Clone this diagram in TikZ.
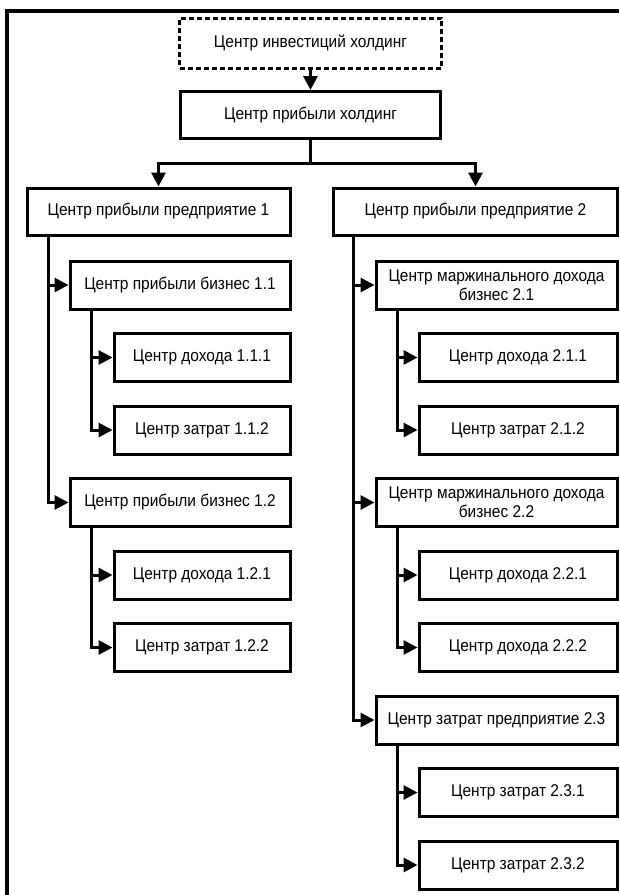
\documentclass[tikz,border=0pt]{standalone}
\usepackage{fontspec}
\setmainfont{Liberation Sans}[FakeStretch=0.91]
\usetikzlibrary{arrows.meta}
\begin{document}
\begin{tikzpicture}[x=1pt,y=-1pt,
  font=\fontsize{17}{19}\selectfont,
  unit/.style={draw, line width=3pt, inner sep=0pt, align=center, minimum height=48pt},
  bigunit/.style={unit, minimum width=220pt},
  subunit/.style={unit, minimum width=176pt},
  bigunitR/.style={unit, minimum width=241pt},
  subunitR/.style={unit, minimum width=198pt},
  link/.style={line width=3pt, -{Triangle[length=14pt,width=14pt]}},
  plain/.style={line width=3pt}]
\useasboundingbox (0,0) rectangle (619,895);
% outer frame (top and left edges)
\draw[line width=4pt, line join=miter] (7,895) -- (7,11) -- (619,11);

% top levels
\node[unit, minimum width=262pt, minimum height=50pt, dash pattern=on 5pt off 3pt] (inv) at (310.5,43) {Центр инвестиций холдинг};
\node[unit, minimum width=260pt, minimum height=47pt] (hold) at (310.5,115) {Центр прибыли холдинг};
\node[unit, minimum width=263pt, minimum height=47pt] (ent1) at (158.5,211.5) {Центр прибыли предприятие 1};
\node[unit, minimum width=284pt, minimum height=47pt] (ent2) at (475.5,211.5) {Центр прибыли предприятие 2};

% enterprise 1
\node[bigunit] (b11) at (180,285) {Центр прибыли бизнес 1.1};
\node[subunit] (d111) at (202,357.5) {Центр дохода 1.1.1};
\node[subunit] (z112) at (202,430) {Центр затрат 1.1.2};
\node[bigunit] (b12) at (180,502.5) {Центр прибыли бизнес 1.2};
\node[subunit] (d121) at (202,575) {Центр дохода 1.2.1};
\node[subunit] (z122) at (202,647.5) {Центр затрат 1.2.2};

% enterprise 2
\node[bigunitR] (b21) at (496.5,285) {Центр маржинального дохода\\бизнес 2.1};
\node[subunitR] (d211) at (518,357.5) {Центр дохода 2.1.1};
\node[subunitR] (z212) at (518,430) {Центр затрат 2.1.2};
\node[bigunitR] (b22) at (496.5,502.5) {Центр маржинального дохода\\бизнес 2.2};
\node[subunitR] (d221) at (518,575) {Центр дохода 2.2.1};
\node[subunitR] (d222) at (518,647.5) {Центр дохода 2.2.2};
\node[bigunitR] (z23) at (496.5,720) {Центр затрат предприятие 2.3};
\node[subunitR] (z231) at (518,792.5) {Центр затрат 2.3.1};
\node[subunitR] (z232) at (518,865) {Центр затрат 2.3.2};

% connectors
\draw[link] (inv) -- (hold);
\coordinate (bus) at (310.5,163);
\draw[plain] (hold.south) -- (bus);
\draw[link] (bus) -| (ent1.north);
\draw[link] (bus) -| (ent2.north);

\draw[link] ([xshift=23pt]ent1.south west) |- (b11.west);
\draw[link] ([xshift=23pt]ent1.south west) |- (b12.west);
\draw[link] ([xshift=23pt]b11.south west) |- (d111.west);
\draw[link] ([xshift=23pt]b11.south west) |- (z112.west);
\draw[link] ([xshift=23pt]b12.south west) |- (d121.west);
\draw[link] ([xshift=23pt]b12.south west) |- (z122.west);

\draw[link] ([xshift=21pt]ent2.south west) |- (b21.west);
\draw[link] ([xshift=21pt]ent2.south west) |- (b22.west);
\draw[link] ([xshift=21pt]ent2.south west) |- (z23.west);
\draw[link] ([xshift=23pt]b21.south west) |- (d211.west);
\draw[link] ([xshift=23pt]b21.south west) |- (z212.west);
\draw[link] ([xshift=23pt]b22.south west) |- (d221.west);
\draw[link] ([xshift=23pt]b22.south west) |- (d222.west);
\draw[link] ([xshift=23pt]z23.south west) |- (z231.west);
\draw[link] ([xshift=23pt]z23.south west) |- (z232.west);
\end{tikzpicture}
\end{document}
